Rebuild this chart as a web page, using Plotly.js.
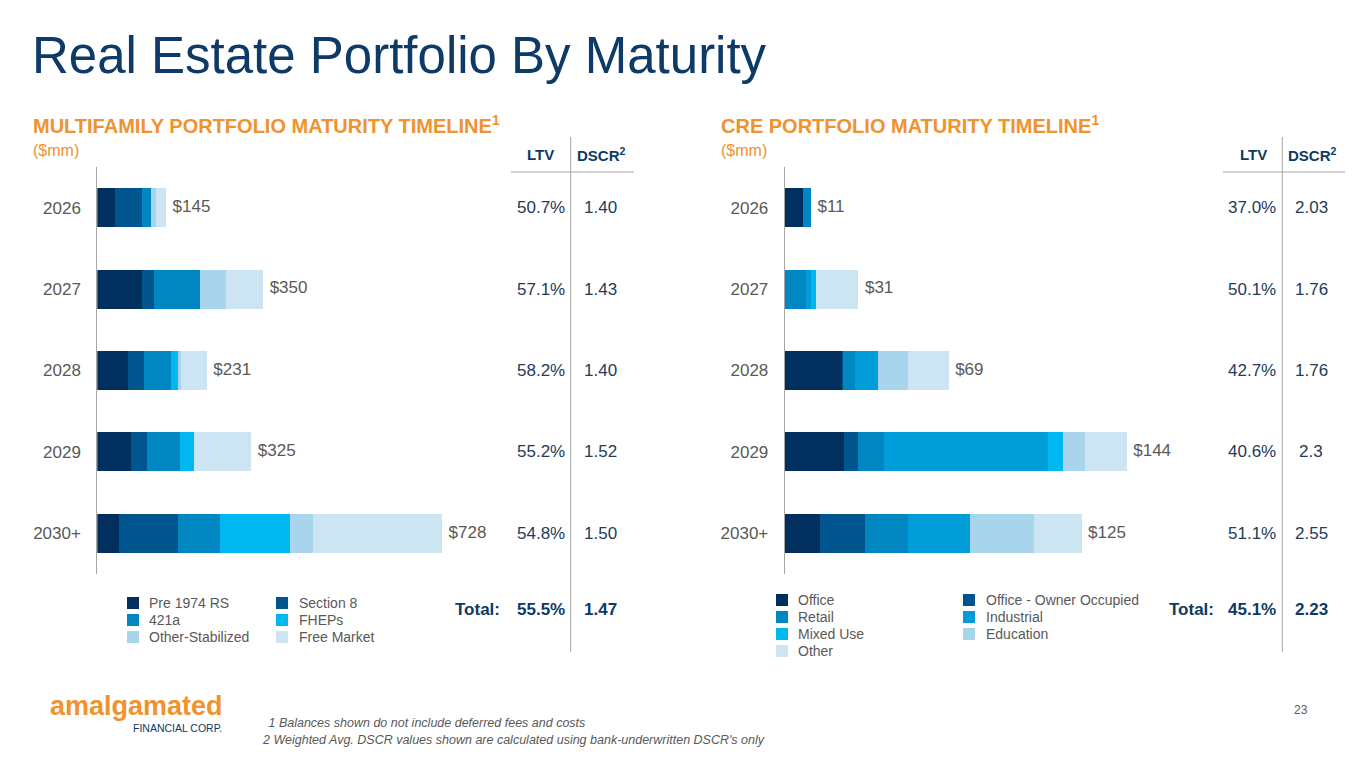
<!DOCTYPE html>
<html>
<head>
<meta charset="utf-8">
<script src="https://cdn.plot.ly/plotly-3.0.1.min.js"></script>
<style>html,body{margin:0;padding:0;background:#fff;}#chart{width:1365px;height:768px;}</style>
</head>
<body>
<div id="chart"></div>
<script>
// ---------- DATA ----------
const years = ['2026', '2027', '2028', '2029', '2030+'];

// Multifamily ($mm)
const mfSeries = ['Pre 1974 RS', 'Section 8', '421a', 'FHEPs', 'Other-Stabilized', 'Free Market'];
const mfPre1974 = [37, 95, 65, 71, 45];
const mfSection8 = [58, 25, 34, 35, 126];
const mf421a = [18, 97, 57, 68, 88];
const mfFHEPs = [0, 0, 15, 30, 148];
const mfOtherStab = [11, 54, 6, 0, 49];
const mfFreeMarket = [21, 79, 54, 121, 272];
const mfTotals = [145, 350, 231, 325, 728];
const mfLTV = ['50.7%', '57.1%', '58.2%', '55.2%', '54.8%'];
const mfDSCR = ['1.40', '1.43', '1.40', '1.52', '1.50'];
const mfTotalLTV = '55.5%';
const mfTotalDSCR = '1.47';

// CRE ($mm)
const creSeries = ['Office', 'Office - Owner Occupied', 'Retail', 'Industrial', 'Mixed Use', 'Education', 'Other'];
const creOffice = [7.5, 0, 24, 25, 15];
const creOfficeOO = [0, 0, 0.5, 6, 19];
const creRetail = [3.5, 9, 5, 11, 18];
const creIndustrial = [0, 2, 10, 69, 26];
const creMixedUse = [0, 2, 0, 6, 0];
const creEducation = [0, 0, 12.5, 9.5, 27];
const creOther = [0, 18, 17, 17.5, 20];
const creTotals = [11, 31, 69, 144, 125];
const creLTV = ['37.0%', '50.1%', '42.7%', '40.6%', '51.1%'];
const creDSCR = ['2.03', '1.76', '1.76', '2.3', '2.55'];
const creTotalLTV = '45.1%';
const creTotalDSCR = '2.23';

// ---------- STYLE ----------
const W = 1365, H = 768;
const FONT = 'Liberation Sans, Arial, Helvetica, sans-serif';
const NAVY = '#0d3a66';
const ORANGE = '#f0922e';
const GRAY = '#595959';
const VAL = '#243b5a';
const mfColors = ['#012f5e', '#00558e', '#0086c0', '#00b8f0', '#a9d5ec', '#cde5f3'];
const creColors = ['#012f5e', '#00558e', '#0086c0', '#009dd8', '#00b8f0', '#a9d5ec', '#cde5f3'];

const px = x => x / W;
const py = y => 1 - y / H;

const mfValues = [mfPre1974, mfSection8, mf421a, mfFHEPs, mfOtherStab, mfFreeMarket];
const creValues = [creOffice, creOfficeOO, creRetail, creIndustrial, creMixedUse, creEducation, creOther];

const traces = [];
function addChart(series, values, colors, totals, xa, ya) {
  series.forEach((name, i) => {
    traces.push({type: 'bar', orientation: 'h', name: name, x: values[i], y: years,
      xaxis: xa, yaxis: ya, marker: {color: colors[i], line: {width: 0}}, width: 0.48,
      showlegend: false, hoverinfo: 'x+name'});
  });
  traces.push({type: 'scatter', mode: 'markers+text', x: totals, y: years, xaxis: xa, yaxis: ya,
    marker: {size: 9, color: 'rgba(0,0,0,0)'},
    text: totals.map(v => '$' + v), textposition: 'middle right',
    textfont: {family: FONT, size: 17, color: GRAY}, showlegend: false, hoverinfo: 'skip', cliponaxis: false});
}
addChart(mfSeries, mfValues, mfColors, mfTotals, 'x', 'y');
addChart(creSeries, creValues, creColors, creTotals, 'x2', 'y2');

function yAxis(anchor) {
  return {type: 'category', categoryorder: 'array', categoryarray: years.slice(),
    autorange: false, range: [years.length - 0.5, -0.5], domain: [py(574), py(167)],
    showline: true, linecolor: '#a6a6a6', linewidth: 1, anchor: anchor,
    ticks: '', showgrid: false, zeroline: false, ticklabelstandoff: 12,
    tickfont: {family: FONT, size: 17, color: GRAY}, fixedrange: true};
}

const annotations = [];
const shapes = [];
function txt(x, y, text, size, color, opts) {
  annotations.push(Object.assign({xref: 'paper', yref: 'paper', x: px(x), y: py(y), text: text,
    showarrow: false, xanchor: 'left', yanchor: 'middle',
    font: {family: FONT, size: size, color: color}}, opts || {}));
}

// Title & subtitles
txt(30, 56, 'Real Estate Portfolio By Maturity', 51, NAVY);
txt(31, 125, '<b>MULTIFAMILY PORTFOLIO MATURITY TIMELINE<sup>1</sup></b>', 20, ORANGE);
txt(31, 150, '($mm)', 16, ORANGE);
txt(719, 125, '<b>CRE PORTFOLIO MATURITY TIMELINE<sup>1</sup></b>', 20, ORANGE);
txt(719, 150, '($mm)', 16, ORANGE);

// Tables (rows tied to the category axis by index)
function table(lineX, hLeft, hRight, ltvC, dscrC, totalRight, ltv, dscr, tLtv, tDscr, yref) {
  shapes.push({type: 'line', xref: 'paper', yref: 'paper', x0: px(lineX), x1: px(lineX), y0: py(137), y1: py(652),
    line: {color: '#a6a6a6', width: 1}});
  shapes.push({type: 'line', xref: 'paper', yref: 'paper', x0: px(hLeft), x1: px(hRight), y0: py(172), y1: py(172),
    line: {color: '#a6a6a6', width: 1}});
  txt(ltvC, 155, '<b>LTV</b>', 15, NAVY, {xanchor: 'center'});
  txt(dscrC, 155, '<b>DSCR<sup>2</sup></b>', 15, NAVY, {xanchor: 'center'});
  years.forEach((yr, i) => {
    annotations.push({xref: 'paper', yref: yref, x: px(lineX - 4), y: i, text: ltv[i], showarrow: false,
      xanchor: 'right', yanchor: 'middle', font: {family: FONT, size: 17, color: VAL}});
    annotations.push({xref: 'paper', yref: yref, x: px(dscrC - 1), y: i, text: dscr[i], showarrow: false,
      xanchor: 'center', yanchor: 'middle', font: {family: FONT, size: 17, color: VAL}});
  });
  txt(totalRight, 609, '<b>Total:</b>', 17, NAVY, {xanchor: 'right'});
  txt(lineX - 4, 609, '<b>' + tLtv + '</b>', 17, NAVY, {xanchor: 'right'});
  txt(dscrC - 1, 609, '<b>' + tDscr + '</b>', 17, NAVY, {xanchor: 'center'});
}
table(570.7, 511, 634, 540, 601, 502, mfLTV, mfDSCR, mfTotalLTV, mfTotalDSCR, 'y');
table(1282.3, 1223, 1345, 1253, 1312, 1216, creLTV, creDSCR, creTotalLTV, creTotalDSCR, 'y2');

// Legends
function legend(names, colors, colX, textX, rowY, rowH) {
  names.forEach((n, i) => {
    const c = i % 2, r = Math.floor(i / 2);
    const cy = rowY + r * rowH;
    shapes.push({type: 'rect', xref: 'paper', yref: 'paper', x0: px(colX[c]), x1: px(colX[c] + 12),
      y0: py(cy + 6), y1: py(cy - 6), fillcolor: colors[i], line: {width: 0}});
    txt(textX[c], cy, n, 14, GRAY);
  });
}
legend(mfSeries, mfColors, [127, 276], [147, 297], 603, 17);
legend(creSeries, creColors, [776, 963], [796, 984], 600, 17);

// Logo & footnotes
txt(225, 706, '<b>amalgamated</b>', 27, ORANGE, {xanchor: 'right'});
txt(224, 728, 'FINANCIAL CORP.', 10.5, NAVY, {xanchor: 'right'});
txt(263, 723, '<i> 1 Balances shown do not include deferred fees and costs</i>', 12.5, GRAY);
txt(260, 740, '<i>2 Weighted Avg. DSCR values shown are calculated using bank-underwritten DSCR\'s only</i>', 12.5, GRAY);
txt(1310, 710, '23', 12, GRAY, {xanchor: 'right'});

const layout = {
  width: W, height: H, margin: {l: 0, r: 0, t: 0, b: 0},
  paper_bgcolor: '#ffffff', plot_bgcolor: 'rgba(0,0,0,0)',
  barmode: 'stack', bargap: 0.5, showlegend: false,
  font: {family: FONT, color: GRAY},
  xaxis: {domain: [px(97.3), px(500)], range: [0, 850.5], autorange: false, visible: false, fixedrange: true},
  yaxis: yAxis('x'),
  xaxis2: {domain: [px(784.7), px(1200)], range: [0, 174.9], autorange: false, visible: false, fixedrange: true},
  yaxis2: yAxis('x2'),
  annotations: annotations, shapes: shapes
};

Plotly.newPlot('chart', traces, layout, {displayModeBar: false, staticPlot: true});
</script>
</body>
</html>
